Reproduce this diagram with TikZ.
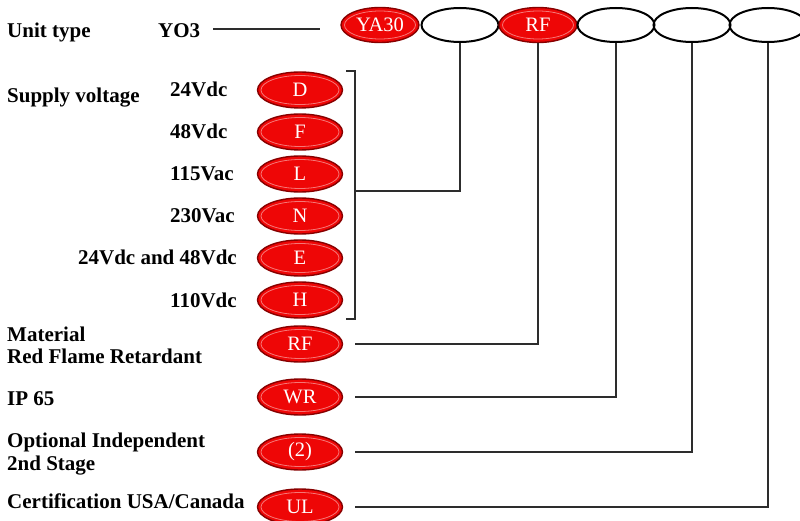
\documentclass[tikz,border=0pt]{standalone}
\usepackage{fontspec}
\setmainfont{Liberation Serif}
\usetikzlibrary{shapes.geometric,calc}
\definecolor{ovred}{RGB}{238,6,6}
\definecolor{ovdark}{RGB}{135,0,0}
\definecolor{lncol}{RGB}{45,45,45}
\tikzset{
  lbl/.style={anchor=base west, inner sep=0pt, font=\fontsize{21}{22}\selectfont\bfseries},
  lble/.style={lbl, anchor=base east},
  redov/.style={ellipse, inner sep=0pt, minimum width=85pt, minimum height=36pt,
    fill=ovred, draw=ovdark, line width=1.4pt, text=white,
    font=\fontsize{20.5}{20.5}\selectfont,
    path picture={
      \path (path picture bounding box.center) coordinate (pc)
            (path picture bounding box.north east) coordinate (pne);
      \draw[white, opacity=.45, line width=.8pt]
        let \p1=($(pne)-(pc)$) in (pc) ellipse [x radius=\x1-3.5pt, y radius=\y1-3.5pt];
    }},
  topred/.style={redov, minimum width=78pt, minimum height=35pt},
  emptyov/.style={ellipse, inner sep=0pt, minimum width=77pt, minimum height=34pt,
    draw=black, line width=2pt},
  conn/.style={draw=lncol, line width=1.3pt},
}
\begin{document}
\begin{tikzpicture}[x=1pt,y=-1pt]
\useasboundingbox (0,0) rectangle (800,521);
\clip (0,0) rectangle (800,521);

% top row
\node[lbl] (ut) at (7,38) {Unit type};
\node[lbl] (yo3) at (158,38) {YO3};
\coordinate (yoa) at (213,29);
\coordinate (yob) at (320,29);
\draw[conn] (yoa) -- (yob);

\node[topred] (t1) at (380,25) {YA30};
\node[emptyov] (t2) at (460,25) {};
\node[topred] (t3) at (538,25) {RF};
\node[emptyov] (t4) at (616,25) {};
\node[emptyov] (t5) at (692,25) {};
\node[emptyov] (t6) at (768,25) {};

% supply voltage
\node[lbl] (sv) at (7,103) {Supply voltage};
\node[lbl] (v1) at (170,97) {24Vdc};
\node[lbl] (v2) at (170,139) {48Vdc};
\node[lbl] (v3) at (170,181) {115Vac};
\node[lbl] (v4) at (170,223) {230Vac};
\node[lble] (v5) at (237,265) {24Vdc and 48Vdc};
\node[lbl] (v6) at (170,307) {110Vdc};

\node[redov] (oD) at (300,90) {D};
\node[redov] (oF) at (300,132) {F};
\node[redov] (oL) at (300,174) {L};
\node[redov] (oN) at (300,216) {N};
\node[redov] (oE) at (300,258) {E};
\node[redov] (oH) at (300,300) {H};

% bracket
\coordinate (bk1) at (346,71);
\coordinate (bk2) at (355,71);
\coordinate (bk3) at (355,319);
\coordinate (bk4) at (346,319);
\coordinate (bkm) at (355,191);
\draw[conn] (bk1) -- (bk2) -- (bk3) -- (bk4);
\draw[conn] (t2.south) |- (bkm);

% material
\node[lbl] (m1) at (7,341) {Material};
\node[lbl] (m2) at (7,363) {Red Flame Retardant};
\node[redov] (oRF) at (300,344) {RF};
\draw[conn] ([xshift=12pt]oRF.east) -| (t3.south);

% IP 65
\node[lbl] (ip) at (7,405) {IP 65};
\node[redov] (oWR) at (300,397) {WR};
\draw[conn] ([xshift=12pt]oWR.east) -| (t4.south);

% optional
\node[lbl] (op1) at (7,447) {Optional Independent};
\node[lbl] (op2) at (7,470) {2nd Stage};
\node[redov] (o2) at (300,452) {(2)};
\draw[conn] ([xshift=12pt]o2.east) -| (t5.south);

% certification
\node[lbl] (ce) at (7,508) {Certification USA/Canada};
\node[redov] (oUL) at (300,507) {UL};
\draw[conn] ([xshift=12pt]oUL.east) -| (t6.south);
\end{tikzpicture}
\end{document}
